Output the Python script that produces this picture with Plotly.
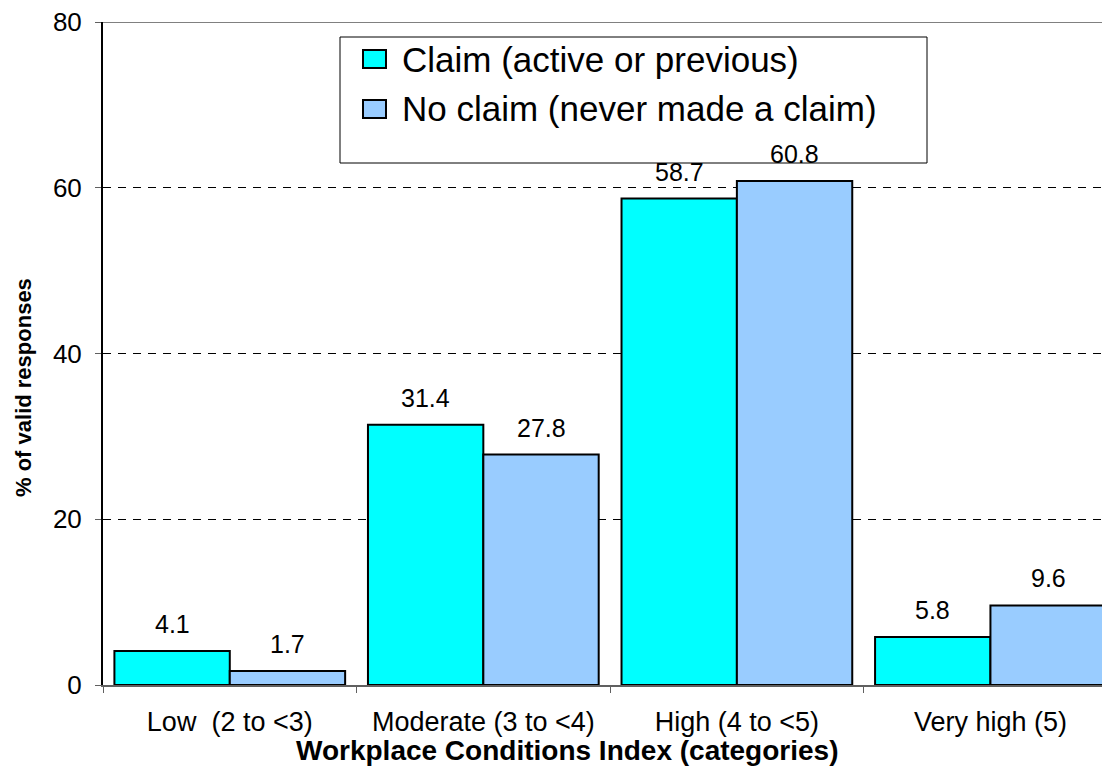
import plotly.graph_objects as go

# Workplace Conditions Index categories and share of valid responses (%)
categories = ["Low  (2 to <3)", "Moderate (3 to <4)", "High (4 to <5)", "Very high (5)"]
claim_name = "Claim (active or previous)"
no_claim_name = "No claim (never made a claim)"
claim = [4.1, 31.4, 58.7, 5.8]
no_claim = [1.7, 27.8, 60.8, 9.6]
y_ticks = [0, 20, 40, 60, 80]

FONT = "Liberation Sans, Arial, sans-serif"
CYAN = "#00FFFF"
LIGHT_BLUE = "#99CCFF"
BARGAP = 0.09

W, H = 1102, 766
M_L, M_R, M_T, M_B = 103, 0, 22, 81
PW, PH = W - M_L - M_R, H - M_T - M_B


def px_x(p):
    return (p - M_L) / PW


def px_y(p):
    return (H - M_B - p) / PH


fig = go.Figure()
for name, vals, color in [(claim_name, claim, CYAN), (no_claim_name, no_claim, LIGHT_BLUE)]:
    fig.add_trace(go.Bar(
        x=categories, y=vals, name=name,
        marker=dict(color=color, line=dict(color="black", width=2)),
        showlegend=False,
    ))

# value labels above each bar
half = (1 - BARGAP) / 4
for i in range(len(categories)):
    for off, vals in [(-half, claim), (half, no_claim)]:
        fig.add_annotation(
            x=i + off, y=vals[i], xref="x", yref="y",
            text=f"{vals[i]:.1f}", showarrow=False,
            yanchor="middle", yshift=27,
            font=dict(family=FONT, size=25, color="black"),
        )

# legend box with swatches
fig.add_shape(type="rect", xref="paper", yref="paper",
              x0=px_x(340), x1=px_x(927), y0=px_y(163), y1=px_y(37),
              line=dict(color="black", width=1), fillcolor="white", layer="above")
for name, color, yc in [(claim_name, CYAN, 59), (no_claim_name, LIGHT_BLUE, 109)]:
    fig.add_shape(type="rect", xref="paper", yref="paper",
                  x0=px_x(363), x1=px_x(386), y0=px_y(yc + 9), y1=px_y(yc - 9),
                  line=dict(color="black", width=2), fillcolor=color, layer="above")
    fig.add_annotation(x=px_x(400), y=px_y(yc), xref="paper", yref="paper",
                       text=name, showarrow=False, xanchor="left", yanchor="middle",
                       font=dict(family=FONT, size=35, color="black"))

# top border of the plot area
fig.add_shape(type="line", xref="paper", yref="y", x0=0, x1=1, y0=80, y1=80,
              line=dict(color="#808080", width=2))

# axis titles
fig.add_annotation(x=px_x(567), y=0, xref="paper", yref="paper",
                   text="<b>Workplace Conditions Index (categories)</b>",
                   showarrow=False, yanchor="middle", yshift=-65,
                   font=dict(family=FONT, size=28, color="black"))
fig.add_annotation(x=0, y=px_y(388), xref="paper", yref="paper",
                   text="<b>% of valid responses</b>", textangle=-90,
                   showarrow=False, xanchor="center", yanchor="middle", xshift=-80,
                   font=dict(family=FONT, size=22, color="black"))

fig.update_layout(
    width=W, height=H,
    margin=dict(l=M_L, r=M_R, t=M_T, b=M_B),
    barmode="group", bargap=BARGAP, bargroupgap=0,
    plot_bgcolor="white", paper_bgcolor="white",
    font=dict(family=FONT, color="black"),
)
fig.update_xaxes(
    type="category", range=[-0.5, 3.44],
    showline=True, linecolor="#606060", linewidth=2,
    ticks="outside", tickson="boundaries", ticklen=6, tickcolor="#606060",
    ticklabelstandoff=12,
    tickfont=dict(family=FONT, size=27, color="black"),
    showgrid=False, zeroline=False,
)
fig.update_yaxes(
    range=[0, 80], tickvals=y_ticks,
    showline=True, linecolor="black", linewidth=2,
    ticks="outside", ticklen=6, tickcolor="#606060",
    ticklabelstandoff=8,
    tickfont=dict(family=FONT, size=26, color="black"),
    showgrid=True, gridcolor="black", gridwidth=1, griddash="8px,7px",
    zeroline=False,
)

fig.write_html("out.html")
